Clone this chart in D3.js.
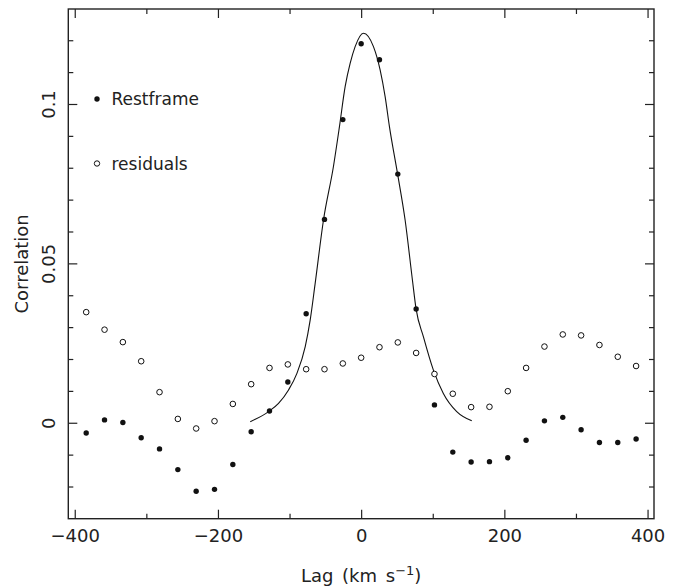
<!DOCTYPE html>
<html>
<head>
<meta charset="utf-8">
<script src="https://cdn.jsdelivr.net/npm/d3@7"></script>
<style>
  html, body { margin: 0; padding: 0; background: #fff; }
  svg { display: block; }
  text { font-family: "DejaVu Sans", sans-serif; fill: #222; }
</style>
</head>
<body>
<svg id="chart" width="678" height="587"></svg>
<script>
// Velocity lags (km/s) of the cross-correlation samples
const lags = [-384, -358.4, -332.8, -307.2, -281.6, -256, -230.4, -204.8, -179.2, -153.6,
  -128, -102.4, -76.8, -51.2, -25.6, 0, 25.6, 51.2, 76.8, 102.4, 128, 153.6, 179.2,
  204.8, 230.4, 256, 281.6, 307.2, 332.8, 358.4, 384];

// Correlation in the rest frame (filled dots)
const restframe = [-0.0032, 0.0009, 0.0001, -0.0047, -0.0082, -0.0147, -0.0215, -0.0209,
  -0.0131, -0.0028, 0.0037, 0.0128, 0.0342, 0.0638, 0.0951, 0.1189, 0.1139, 0.0780,
  0.0357, 0.0056, -0.0092, -0.0123, -0.0122, -0.0110, -0.0055, 0.0006, 0.0017, -0.0022,
  -0.0062, -0.0062, -0.0051];

// Correlation of the residuals (open circles)
const residuals = [0.0347, 0.0292, 0.0253, 0.0193, 0.0096, 0.0012, -0.0018, 0.0005,
  0.0059, 0.0121, 0.0172, 0.0183, 0.0168, 0.0168, 0.0186, 0.0204, 0.0237, 0.0252,
  0.0219, 0.0153, 0.0091, 0.0049, 0.0050, 0.0099, 0.0172, 0.0239, 0.0277, 0.0274,
  0.0244, 0.0207, 0.0178];

// Fitted profile through the central peak
const fitLags = [-154.9, -129.4, -115.4, -101.4, -89.7, -78.1, -71.2, -64.4, -52.6, -38.7,
  -30.3, -22.3, -15.3, -8.4, 3.2, 17.2, 26.5, 33.5, 39.5, 50.7, 61.4, 71.6, 76.7, 86.9,
  100.9, 114.8, 133.5, 154.5];
const fitValues = [0.0003, 0.0035, 0.0061, 0.0103, 0.0155, 0.0239, 0.0322, 0.0434, 0.0636,
  0.0804, 0.0929, 0.1055, 0.1128, 0.1180, 0.1222, 0.1180, 0.1107, 0.1023, 0.0929, 0.0783,
  0.0636, 0.0448, 0.0357, 0.0270, 0.0165, 0.0092, 0.0035, 0.0006];

// Axis ticks
const xMajorTicks = [-400, -200, 0, 200, 400];
const xTickLabels = ["\u2212400", "\u2212200", "0", "200", "400"];
const xMinorTicks = [-300, -100, 100, 300];
const yMajorTicks = [0, 0.05, 0.1];
const yTickLabels = ["0", "0.05", "0.1"];
const yMinorTicks = [-0.02, -0.01, 0.01, 0.02, 0.03, 0.04, 0.06, 0.07, 0.08, 0.09, 0.11, 0.12];

const legendItems = [
  { label: "Restframe", filled: true },
  { label: "residuals", filled: false }
];

const svg = d3.select("#chart");
const plot = { left: 68.3, right: 654, top: 9, bottom: 518.7 };

const x = d3.scaleLinear().domain([-409, 409]).range([plot.left, plot.right]);
const y = d3.scaleLinear().domain([-0.0301, 0.1298]).range([plot.bottom, plot.top]);

const majorLen = 9, minorLen = 5;
const axisColor = "#222";

function styleAxis(g) {
  g.select(".domain").remove();
  g.selectAll(".tick line").attr("stroke", axisColor).attr("stroke-width", 1.2);
}

// Bottom axis with labels
const gBottom = svg.append("g").attr("transform", `translate(0,${plot.bottom})`)
  .call(d3.axisBottom(x).tickValues(xMajorTicks).tickSize(-majorLen)
    .tickFormat((d, i) => xTickLabels[i]));
styleAxis(gBottom);
gBottom.selectAll(".tick text")
  .attr("y", 23.6).attr("dy", 0)
  .style("font-size", "18px").style("font-family", "DejaVu Sans, sans-serif").attr("fill", "#222");
svg.append("g").attr("transform", `translate(0,${plot.bottom})`)
  .call(d3.axisBottom(x).tickValues(xMinorTicks).tickSize(-minorLen).tickFormat(""))
  .call(styleAxis);

// Top axis
svg.append("g").attr("transform", `translate(0,${plot.top})`)
  .call(d3.axisTop(x).tickValues(xMajorTicks).tickSize(-majorLen).tickFormat(""))
  .call(styleAxis);
svg.append("g").attr("transform", `translate(0,${plot.top})`)
  .call(d3.axisTop(x).tickValues(xMinorTicks).tickSize(-minorLen).tickFormat(""))
  .call(styleAxis);

// Left axis with rotated labels
const gLeft = svg.append("g").attr("transform", `translate(${plot.left},0)`)
  .call(d3.axisLeft(y).tickValues(yMajorTicks).tickSize(-majorLen)
    .tickFormat((d, i) => yTickLabels[i]));
styleAxis(gLeft);
gLeft.selectAll(".tick text")
  .attr("x", 0).attr("dy", 0)
  .attr("transform", "translate(-13.5,0) rotate(-90)")
  .attr("text-anchor", "middle")
  .style("font-size", "18px").style("font-family", "DejaVu Sans, sans-serif").attr("fill", "#222");
svg.append("g").attr("transform", `translate(${plot.left},0)`)
  .call(d3.axisLeft(y).tickValues(yMinorTicks).tickSize(-minorLen).tickFormat(""))
  .call(styleAxis);

// Right axis
svg.append("g").attr("transform", `translate(${plot.right},0)`)
  .call(d3.axisRight(y).tickValues(yMajorTicks).tickSize(-majorLen).tickFormat(""))
  .call(styleAxis);
svg.append("g").attr("transform", `translate(${plot.right},0)`)
  .call(d3.axisRight(y).tickValues(yMinorTicks).tickSize(-minorLen).tickFormat(""))
  .call(styleAxis);

// Frame
svg.append("rect")
  .attr("x", plot.left).attr("y", plot.top)
  .attr("width", plot.right - plot.left).attr("height", plot.bottom - plot.top)
  .attr("fill", "none").attr("stroke", axisColor).attr("stroke-width", 1.4);

// Axis titles
svg.append("text")
  .attr("x", (plot.left + plot.right) / 2).attr("y", 581.5)
  .attr("text-anchor", "middle").style("font-size", "18px")
  .style("word-spacing", "3px")
  .call(t => {
    t.append("tspan").text("Lag (km s");
    t.append("tspan").attr("dy", -7).style("font-size", "13px").text("\u22121");
    t.append("tspan").attr("dy", 7).text(")");
  });

svg.append("text")
  .attr("transform", `translate(28,${(plot.top + plot.bottom) / 2}) rotate(-90)`)
  .attr("text-anchor", "middle").style("font-size", "18px")
  .text("Correlation");

// Fitted curve
const fit = fitLags.map((l, i) => [l, fitValues[i]]);
svg.append("path")
  .datum(fit)
  .attr("fill", "none").attr("stroke", "#111").attr("stroke-width", 1.1)
  .attr("d", d3.line().x(d => x(d[0])).y(d => y(d[1])).curve(d3.curveMonotoneX));

// Residual correlation: open circles
svg.append("g").selectAll("circle")
  .data(lags.map((l, i) => [l, residuals[i]]))
  .join("circle")
  .attr("cx", d => x(d[0])).attr("cy", d => y(d[1])).attr("r", 2.8)
  .attr("fill", "#fff").attr("stroke", "#111").attr("stroke-width", 1);

// Rest-frame correlation: filled dots
svg.append("g").selectAll("circle")
  .data(lags.map((l, i) => [l, restframe[i]]))
  .join("circle")
  .attr("cx", d => x(d[0])).attr("cy", d => y(d[1])).attr("r", 2.7)
  .attr("fill", "#111");

// Legend
const legend = svg.append("g").attr("transform", "translate(97,99)");
legendItems.forEach((item, i) => {
  const g = legend.append("g").attr("transform", `translate(0,${i * 64.5})`);
  g.append("circle").attr("r", 2.7)
    .attr("fill", item.filled ? "#111" : "#fff")
    .attr("stroke", "#111").attr("stroke-width", item.filled ? 0 : 1);
  g.append("text").attr("x", 14.5).attr("y", 6)
    .style("font-size", "17px").text(item.label);
});
</script>
</body>
</html>
